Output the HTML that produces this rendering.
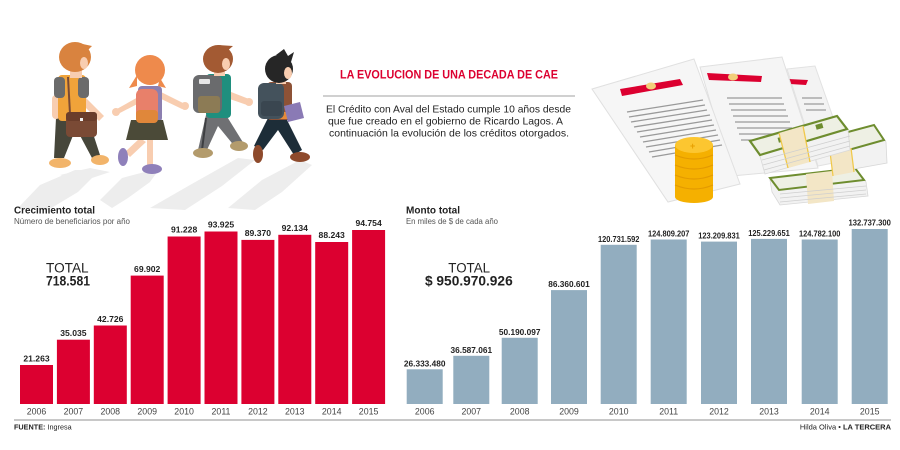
<!DOCTYPE html>
<html><head><meta charset="utf-8"><style>
html,body{margin:0;padding:0;background:#fff;}
svg{display:block;}
text{font-family:"Liberation Sans",sans-serif;}
</style></head><body>
<svg width="900" height="450" viewBox="0 0 900 450" xmlns="http://www.w3.org/2000/svg">
<rect width="900" height="450" fill="#fff"/>

<!-- shadows under kids -->
<g fill="#ededed">
<polygon points="18,208 40,185 75,170 100,170 78,192 48,210"/>
<polygon points="100,200 122,178 160,168 150,182 128,198 112,208"/>
<polygon points="150,208 190,185 238,158 255,160 222,186 185,210"/>
<polygon points="228,208 262,180 300,160 312,165 282,192 255,210"/>
<polygon points="60,175 90,168 110,172 80,182"/>
</g>

<!-- Kid 1 -->
<g>
<path d="M56,118 L88,118 L100,155 L92,158 L76,128 L64,158 L54,158 Z" fill="#46463a"/>
<ellipse cx="60" cy="163" rx="11" ry="5" fill="#f2b46a"/>
<ellipse cx="100" cy="160" rx="9" ry="5" fill="#f2b46a"/>
<rect x="52" y="95" width="8" height="24" rx="4" fill="#f8cdb0"/>
<path d="M84,96 L104,116 L99,121 L80,102 Z" fill="#f8cdb0"/>
<rect x="58" y="75" width="28" height="46" rx="4" fill="#f0a33a"/>
<rect x="54" y="77" width="11" height="21" rx="4" fill="#6b6b6b"/>
<rect x="78" y="77" width="11" height="21" rx="4" fill="#6b6b6b"/>
<line x1="68" y1="77" x2="70" y2="114" stroke="#7a4a35" stroke-width="2"/>
<rect x="66" y="112" width="31" height="25" rx="4" fill="#7a4a35"/>
<rect x="66" y="112" width="31" height="9" rx="3" fill="#6a3d2b"/>
<rect x="80" y="118" width="3" height="3" fill="#f0f0f0"/>
<rect x="70" y="66" width="12" height="12" fill="#f8cdb0"/>
<ellipse cx="75" cy="57" rx="16" ry="15" fill="#d9833f"/>
<ellipse cx="84" cy="63" rx="4" ry="6" fill="#f8cdb0"/>
<path d="M78,43 L92,46 L86,52 Z" fill="#d9833f"/>
</g>

<!-- Kid 2 -->
<g>
<path d="M140,138 L125,152 L130,157 L146,142 Z" fill="#f8cdb0"/>
<rect x="147" y="138" width="6" height="28" fill="#f8cdb0"/>
<ellipse cx="123" cy="157" rx="5" ry="9" fill="#8f80ba"/>
<ellipse cx="152" cy="169" rx="10" ry="5" fill="#8f80ba"/>
<path d="M115,110 L140,96 L143,101 L118,114 Z" fill="#f8cdb0"/>
<path d="M157,90 L185,104 L182,109 L155,96 Z" fill="#f8cdb0"/>
<circle cx="116" cy="112" r="4" fill="#f8cdb0"/>
<circle cx="185" cy="106" r="4" fill="#f8cdb0"/>
<rect x="138" y="86" width="24" height="36" rx="4" fill="#8c7fb0"/>
<path d="M131,120 L163,120 L168,140 L126,140 Z" fill="#4b4a38"/>
<rect x="136" y="89" width="22" height="34" rx="6" fill="#e8806a"/>
<rect x="136" y="110" width="22" height="13" rx="4" fill="#e0873a"/>
<circle cx="150" cy="70" r="15" fill="#ee8a4c"/>
<path d="M137,75 L129,88 L137,86 Z" fill="#ee8a4c"/>
<path d="M160,78 L166,88 L158,86 Z" fill="#ee8a4c"/>
</g>

<!-- Kid 3 -->
<g>
<path d="M206,115 L226,115 L244,144 L236,148 L218,126 L206,152 L198,150 Z" fill="#6f7073"/>
<path d="M206,118 L202,150" stroke="#3e3f42" stroke-width="2"/>
<ellipse cx="203" cy="153" rx="10" ry="5" fill="#b39b6c"/>
<ellipse cx="239" cy="146" rx="9" ry="5" fill="#b39b6c"/>
<path d="M226,90 L249,99 L247,105 L224,97 Z" fill="#f8cdb0"/>
<circle cx="249" cy="102" r="4" fill="#f8cdb0"/>
<rect x="206" y="74" width="25" height="44" rx="4" fill="#1f8f7e"/>
<rect x="193" y="75" width="29" height="38" rx="6" fill="#6a6b6d"/>
<rect x="198" y="96" width="22" height="17" rx="3" fill="#8c7b55"/>
<rect x="199" y="79" width="11" height="5" rx="1" fill="#e6e6e6"/>
<rect x="214" y="64" width="11" height="12" fill="#f8cdb0"/>
<ellipse cx="218" cy="59" rx="15" ry="14" fill="#a35a33"/>
<ellipse cx="226" cy="64" rx="4" ry="6" fill="#f8cdb0"/>
<path d="M218,45 L233,46 L226,52 Z" fill="#a35a33"/>
</g>

<!-- Kid 4 -->
<g>
<path d="M268,118 L286,118 L302,150 L294,155 L278,130 L263,150 L254,146 Z" fill="#1d2d38"/>
<ellipse cx="258" cy="154" rx="5" ry="9" fill="#8e4a2c"/>
<ellipse cx="300" cy="157" rx="10" ry="5" fill="#8e4a2c"/>
<rect x="267" y="82" width="25" height="38" rx="4" fill="#8d5236"/>
<rect x="267" y="112" width="22" height="7" fill="#e68a3a"/>
<path d="M284,106 L300,102 L304,118 L288,122 Z" fill="#8a7ab5"/>
<rect x="258" y="83" width="26" height="36" rx="6" fill="#44525c"/>
<rect x="261" y="101" width="21" height="15" rx="3" fill="#3a4650"/>
<rect x="276" y="74" width="10" height="10" fill="#f8cdb0"/>
<ellipse cx="279" cy="69" rx="14" ry="14" fill="#262626"/>
<ellipse cx="288" cy="73" rx="4" ry="6" fill="#f8cdb0"/>
<path d="M276,55 L284,49 L288,56 L294,52 L291,62 Z" fill="#262626"/>
</g>

<!-- Papers -->
<g>
<polygon points="787,69 815,66 848,160 818,166" fill="#f3f3f3" stroke="#e2e2e2" stroke-width="1"/>
<polygon points="788,79 808,80 806,85 790,84" fill="#dc0030"/>
<polygon points="700,67 782,57 818,168 732,176" fill="#f5f5f5" stroke="#e0e0e0" stroke-width="1"/>
<polygon points="707,73 762,76 761,82 709,80" fill="#dc0030"/>
<ellipse cx="733" cy="77" rx="5" ry="3.5" fill="#f2cf7a"/>
<g stroke="#9a9a9a" stroke-width="1.3">
<line x1="727" y1="98" x2="782" y2="98"/><line x1="729" y1="104" x2="784" y2="104"/>
<line x1="731" y1="110" x2="786" y2="110"/><line x1="733" y1="116" x2="788" y2="116"/>
<line x1="735" y1="122" x2="790" y2="122"/><line x1="737" y1="128" x2="792" y2="128"/>
<line x1="739" y1="134" x2="794" y2="134"/><line x1="741" y1="140" x2="796" y2="140"/>
<line x1="802" y1="98" x2="822" y2="98"/><line x1="804" y1="104" x2="824" y2="104"/>
<line x1="806" y1="110" x2="826" y2="110"/>
</g>
<polygon points="592,89 694,59 740,184 668,202" fill="#f6f6f6" stroke="#e0e0e0" stroke-width="1"/>
<polygon points="620,89 680,79 683,85 622,96" fill="#dc0030"/>
<ellipse cx="651" cy="86" rx="5" ry="3.5" fill="#f2cf7a"/>
<g stroke="#9a9a9a" stroke-width="1.3">
<line x1="627" y1="112" x2="703" y2="100"/><line x1="629" y1="117" x2="705" y2="105"/>
<line x1="631" y1="122" x2="707" y2="110"/><line x1="634" y1="127" x2="710" y2="115"/>
<line x1="637" y1="132" x2="712" y2="120"/><line x1="640" y1="137" x2="714" y2="125"/>
<line x1="643" y1="142" x2="716" y2="130"/><line x1="646" y1="147" x2="718" y2="135"/>
<line x1="649" y1="152" x2="720" y2="140"/><line x1="652" y1="157" x2="722" y2="145"/>
</g>
</g>

<!-- Coins -->
<g>
<rect x="675" y="145" width="38" height="52" fill="#f5b000"/>
<ellipse cx="694" cy="197" rx="19" ry="6" fill="#f5b000"/>
<g stroke="#e39a00" stroke-width="1.2" fill="none">
<path d="M675,155 Q694,163 713,155"/><path d="M675,165 Q694,173 713,165"/>
<path d="M675,175 Q694,183 713,175"/><path d="M675,185 Q694,193 713,185"/>
</g>
<ellipse cx="694" cy="145" rx="19" ry="8" fill="#fcc630"/>
<text x="690" y="149" font-size="9" font-weight="bold" fill="#e8a000">+</text>
</g>

<!-- Money stacks -->
<g>
<polygon points="770,180 857,170 866,182 868,196 780,205 772,192" fill="#f2f2f2" stroke="#d8d8d8" stroke-width="0.8"/>
<polygon points="770,178 855,168 864,180 779,190" fill="#eef0e4"/>
<polygon points="770,178 855,168 864,180 779,190" fill="none" stroke="#6e8d2f" stroke-width="2"/>
<polygon points="806,174 832,171 834,201 808,204" fill="#f3e6c6"/>
<g stroke="#cfcfcf" stroke-width="0.8"><line x1="780" y1="194" x2="866" y2="186"/><line x1="780" y1="198" x2="866" y2="190"/><line x1="780" y1="202" x2="866" y2="194"/></g>
<polygon points="833,138 874,126 886,142 887,163 848,170 846,152" fill="#f2f2f2" stroke="#d8d8d8" stroke-width="0.8"/>
<polygon points="833,136 874,125 884,140 845,151" fill="#eef0e4" stroke="#6e8d2f" stroke-width="2"/>
<polygon points="830,152 851,148 854,172 833,176" fill="#f3e6c6"/>
<line x1="830" y1="152" x2="833" y2="176" stroke="#f0c84a" stroke-width="1.2"/>
<line x1="851" y1="148" x2="854" y2="172" stroke="#f0c84a" stroke-width="1.2"/>
<polygon points="750,142 838,116 848,130 850,150 765,174 760,156" fill="#f2f2f2" stroke="#d8d8d8" stroke-width="0.8"/>
<polygon points="750,141 837,116 847,129 760,155" fill="#eef0e4" stroke="#6e8d2f" stroke-width="2.2"/>
<rect x="778" y="137" width="7" height="5" fill="#6e8d2f" transform="rotate(-16 781 139)"/>
<rect x="816" y="124" width="7" height="5" fill="#6e8d2f" transform="rotate(-16 819 127)"/>
<polygon points="779,133 803,126 810,162 788,168" fill="#f3e6c6"/>
<line x1="779" y1="133" x2="788" y2="168" stroke="#f0c84a" stroke-width="1.3"/>
<line x1="803" y1="126" x2="810" y2="162" stroke="#f0c84a" stroke-width="1.3"/>
<g stroke="#cfcfcf" stroke-width="0.8"><line x1="762" y1="160" x2="850" y2="136"/><line x1="763" y1="165" x2="850" y2="141"/><line x1="764" y1="170" x2="850" y2="146"/></g>
</g>

<!-- Title block -->
<text x="340" y="78.3" font-size="11.5" font-weight="bold" fill="#dc0030" textLength="218" lengthAdjust="spacingAndGlyphs">LA EVOLUCION DE UNA DECADA DE CAE</text>
<line x1="323" y1="96" x2="575" y2="96" stroke="#a0a0a0" stroke-width="1"/>
<text x="326" y="112.5" font-size="10.5" fill="#222" textLength="245" lengthAdjust="spacingAndGlyphs">El Crédito con Aval del Estado cumple 10 años desde</text>
<text x="328" y="124.5" font-size="10.5" fill="#222" textLength="235" lengthAdjust="spacingAndGlyphs">que fue creado en el gobierno de Ricardo Lagos. A</text>
<text x="329" y="136.5" font-size="10.5" fill="#222" textLength="240" lengthAdjust="spacingAndGlyphs">continuación la evolución de los créditos otorgados.</text>

<!-- Left chart headings -->
<text x="14" y="213.5" font-size="10.5" font-weight="bold" fill="#222" textLength="81" lengthAdjust="spacingAndGlyphs">Crecimiento total</text>
<text x="14" y="224" font-size="8" fill="#555" textLength="116" lengthAdjust="spacingAndGlyphs">Número de beneficiarios por año</text>
<text x="46" y="272.3" font-size="13.5" fill="#222" textLength="42.6" lengthAdjust="spacingAndGlyphs">TOTAL</text>
<text x="46" y="285.7" font-size="13.5" font-weight="bold" fill="#222" textLength="44" lengthAdjust="spacingAndGlyphs">718.581</text>

<!-- Left bars -->
<g fill="#dc0030">
<rect x="20" y="365" width="33" height="39"/>
<rect x="56.9" y="339.7" width="33" height="64.3"/>
<rect x="93.8" y="325.5" width="33" height="78.5"/>
<rect x="130.7" y="275.6" width="33" height="128.4"/>
<rect x="167.6" y="236.5" width="33" height="167.5"/>
<rect x="204.5" y="231.5" width="33" height="172.5"/>
<rect x="241.4" y="239.9" width="33" height="164.1"/>
<rect x="278.3" y="234.8" width="33" height="169.2"/>
<rect x="315.2" y="242" width="33" height="162"/>
<rect x="352.1" y="230" width="33" height="174"/>
</g>
<g font-size="8.6" font-weight="bold" fill="#222" text-anchor="middle">
<text x="36.5" y="361.5">21.263</text>
<text x="73.4" y="336">35.035</text>
<text x="110.3" y="321.8">42.726</text>
<text x="147.2" y="271.8">69.902</text>
<text x="184.1" y="232.6">91.228</text>
<text x="221" y="227.6">93.925</text>
<text x="257.9" y="236">89.370</text>
<text x="294.8" y="231">92.134</text>
<text x="331.7" y="238.2">88.243</text>
<text x="368.6" y="226">94.754</text>
</g>
<g font-size="8.8" fill="#444" text-anchor="middle">
<text x="36.5" y="414.3">2006</text>
<text x="73.4" y="414.3">2007</text>
<text x="110.3" y="414.3">2008</text>
<text x="147.2" y="414.3">2009</text>
<text x="184.1" y="414.3">2010</text>
<text x="221" y="414.3">2011</text>
<text x="257.9" y="414.3">2012</text>
<text x="294.8" y="414.3">2013</text>
<text x="331.7" y="414.3">2014</text>
<text x="368.6" y="414.3">2015</text>
</g>

<!-- Right chart headings -->
<text x="406" y="213.5" font-size="10.5" font-weight="bold" fill="#222" textLength="54" lengthAdjust="spacingAndGlyphs">Monto total</text>
<text x="406" y="224" font-size="8" fill="#555" textLength="92" lengthAdjust="spacingAndGlyphs">En miles de $ de cada año</text>
<text x="448.3" y="272.3" font-size="13.5" fill="#222" textLength="41.7" lengthAdjust="spacingAndGlyphs">TOTAL</text>
<text x="425" y="285.7" font-size="13.5" font-weight="bold" fill="#222" textLength="87.7" lengthAdjust="spacingAndGlyphs">$ 950.970.926</text>

<!-- Right bars -->
<g fill="#92adbf">
<rect x="406.7" y="369.3" width="36" height="34.7"/>
<rect x="453.3" y="355.8" width="36" height="48.2"/>
<rect x="501.7" y="337.8" width="36" height="66.2"/>
<rect x="551" y="290.1" width="36" height="113.9"/>
<rect x="600.7" y="244.8" width="36" height="159.2"/>
<rect x="650.7" y="239.5" width="36" height="164.5"/>
<rect x="701" y="241.6" width="36" height="162.4"/>
<rect x="751" y="238.9" width="36" height="165.1"/>
<rect x="801.7" y="239.5" width="36" height="164.5"/>
<rect x="851.7" y="229" width="36" height="175"/>
</g>
<g font-size="8.3" font-weight="bold" fill="#222" text-anchor="middle">
<text x="424.7" y="366.3">26.333.480</text>
<text x="471.3" y="352.8">36.587.061</text>
<text x="519.7" y="334.8">50.190.097</text>
<text x="569" y="287.1">86.360.601</text>
<text x="618.7" y="241.8" textLength="41.5" lengthAdjust="spacingAndGlyphs">120.731.592</text>
<text x="668.7" y="236.5" textLength="41.5" lengthAdjust="spacingAndGlyphs">124.809.207</text>
<text x="719" y="238.6" textLength="41.5" lengthAdjust="spacingAndGlyphs">123.209.831</text>
<text x="769" y="235.9" textLength="41.5" lengthAdjust="spacingAndGlyphs">125.229.651</text>
<text x="819.7" y="236.5" textLength="41.5" lengthAdjust="spacingAndGlyphs">124.782.100</text>
<text x="869.7" y="225.5" textLength="42.3" lengthAdjust="spacingAndGlyphs">132.737.300</text>
</g>
<g font-size="8.8" fill="#444" text-anchor="middle">
<text x="424.7" y="414.3">2006</text>
<text x="471.3" y="414.3">2007</text>
<text x="519.7" y="414.3">2008</text>
<text x="569" y="414.3">2009</text>
<text x="618.7" y="414.3">2010</text>
<text x="668.7" y="414.3">2011</text>
<text x="719" y="414.3">2012</text>
<text x="769" y="414.3">2013</text>
<text x="819.7" y="414.3">2014</text>
<text x="869.7" y="414.3">2015</text>
</g>

<!-- Bottom rule and credits -->
<line x1="14" y1="420" x2="891" y2="420" stroke="#a8a8a8" stroke-width="1.2"/>
<text x="14" y="429.5" font-size="7.5" fill="#222" textLength="57.7" lengthAdjust="spacingAndGlyphs"><tspan font-weight="bold">FUENTE:</tspan> Ingresa</text>
<text x="891" y="429.5" font-size="7.5" fill="#222" text-anchor="end">Hilda Oliva • <tspan font-weight="bold">LA TERCERA</tspan></text>
</svg>
</body></html>
